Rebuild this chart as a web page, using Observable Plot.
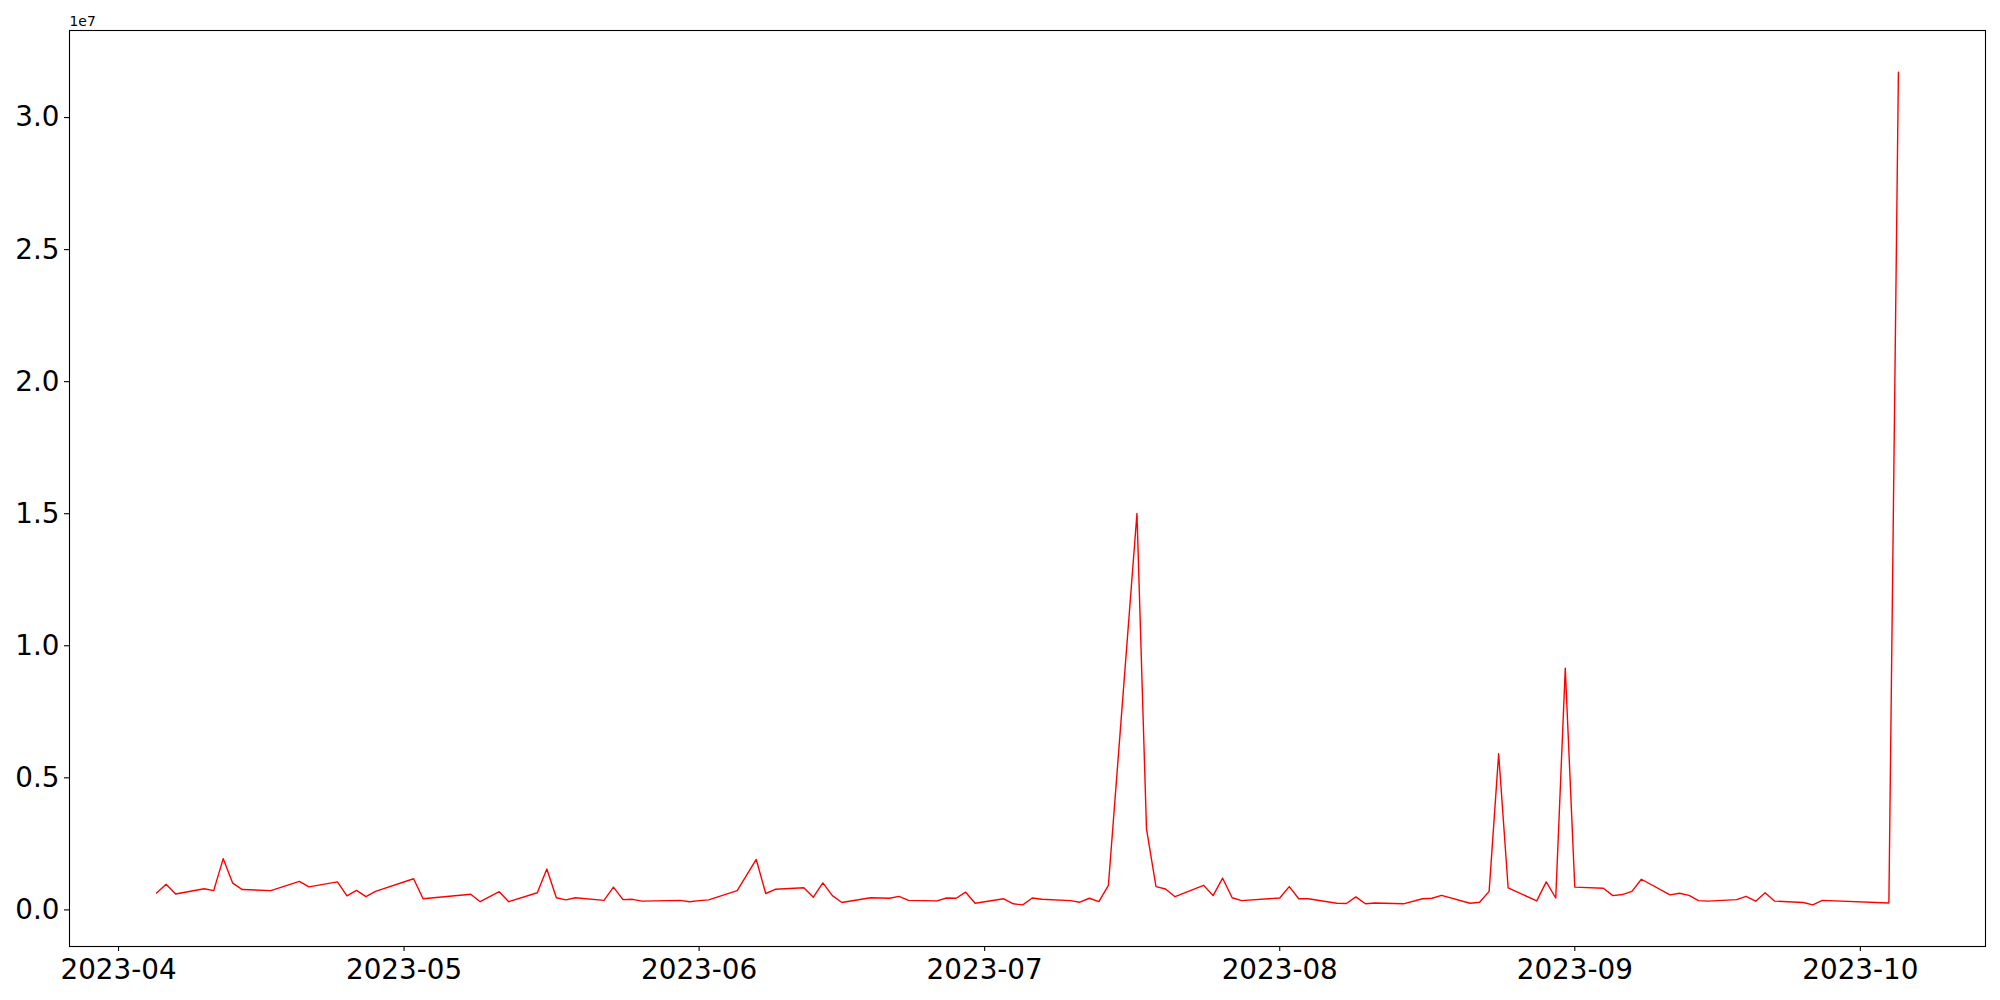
<!DOCTYPE html>
<html>
<head>
<meta charset="utf-8">
<script src="https://cdn.jsdelivr.net/npm/d3@7"></script>
<script src="https://cdn.jsdelivr.net/npm/@observablehq/plot@0.6"></script>
<style>
  html, body { margin: 0; padding: 0; background: #fff; }
  #chart svg { display: block; }
</style>
</head>
<body>
<div id="chart"></div>
<script>
// Dates (daily records) and values
const dates = [
  "2023-04-05","2023-04-06","2023-04-07","2023-04-10","2023-04-11","2023-04-12","2023-04-13","2023-04-14",
  "2023-04-17","2023-04-20","2023-04-21","2023-04-24","2023-04-25","2023-04-26","2023-04-27","2023-04-28",
  "2023-05-02","2023-05-03","2023-05-08","2023-05-09","2023-05-11","2023-05-12","2023-05-15","2023-05-16",
  "2023-05-17","2023-05-18","2023-05-19","2023-05-22","2023-05-23","2023-05-24","2023-05-25","2023-05-26",
  "2023-05-30","2023-05-31","2023-06-01","2023-06-02","2023-06-05","2023-06-07","2023-06-08","2023-06-09",
  "2023-06-12","2023-06-13","2023-06-14","2023-06-15","2023-06-16","2023-06-19","2023-06-21","2023-06-22",
  "2023-06-23","2023-06-26","2023-06-27","2023-06-28","2023-06-29","2023-06-30","2023-07-03","2023-07-04",
  "2023-07-05","2023-07-06","2023-07-07","2023-07-10","2023-07-11","2023-07-12","2023-07-13","2023-07-14",
  "2023-07-17","2023-07-18","2023-07-19","2023-07-20","2023-07-21","2023-07-24","2023-07-25","2023-07-26",
  "2023-07-27","2023-07-28","2023-08-01","2023-08-02","2023-08-03","2023-08-04","2023-08-07","2023-08-08",
  "2023-08-09","2023-08-10","2023-08-11","2023-08-14","2023-08-16","2023-08-17","2023-08-18","2023-08-21",
  "2023-08-22","2023-08-23","2023-08-24","2023-08-25","2023-08-28","2023-08-29","2023-08-30","2023-08-31",
  "2023-09-01","2023-09-04","2023-09-05","2023-09-06","2023-09-07","2023-09-08","2023-09-11","2023-09-12",
  "2023-09-13","2023-09-14","2023-09-15","2023-09-18","2023-09-19","2023-09-20","2023-09-21","2023-09-22",
  "2023-09-25","2023-09-26","2023-09-27","2023-10-04","2023-10-05"
];
const values = [
  640000, 970000, 600000, 800000, 730000, 1940000, 1010000, 770000,
  730000, 1080000, 870000, 1060000, 530000, 740000, 500000, 700000,
  1180000, 420000, 590000, 310000, 690000, 310000, 650000, 1550000,
  460000, 380000, 460000, 360000, 860000, 390000, 400000, 330000,
  360000, 310000, 350000, 380000, 730000, 1910000, 620000, 780000,
  840000, 480000, 1020000, 540000, 280000, 460000, 440000, 510000,
  360000, 340000, 450000, 440000, 670000, 250000, 420000, 230000,
  190000, 450000, 400000, 350000, 290000, 440000, 310000, 930000,
  15010000, 3070000, 880000, 790000, 500000, 930000, 540000, 1200000,
  460000, 350000, 450000, 880000, 420000, 420000, 250000, 240000,
  490000, 230000, 260000, 230000, 420000, 440000, 550000, 250000,
  290000, 700000, 5910000, 830000, 340000, 1060000, 450000, 9150000,
  860000, 820000, 540000, 580000, 700000, 1160000, 570000, 630000,
  550000, 350000, 330000, 390000, 510000, 330000, 650000, 330000,
  280000, 190000, 360000, 260000, 31720000
];
const yTicks = [0, 5e6, 1e7, 1.5e7, 2e7, 2.5e7, 3e7];
const xTickLabels = ["2023-04","2023-05","2023-06","2023-07","2023-08","2023-09","2023-10"];
const offsetLabel = ["1e7"];

const data = dates.map((d, i) => ({date: new Date(d + "T00:00:00Z"), value: values[i]}));

// matplotlib-like 5% margins
const [x0, x1] = d3.extent(data, d => d.date);
const xPad = (x1 - x0) * 0.05;
const [y0, y1] = d3.extent(data, d => d.value);
const yPad = (y1 - y0) * 0.05;
const xTicks = xTickLabels.map(s => new Date(s + "-01T00:00:00Z"));

const chart = Plot.plot({
  width: 2000,
  height: 1000,
  marginLeft: 69,
  marginRight: 15,
  marginTop: 30,
  marginBottom: 54,
  style: {fontFamily: "'DejaVu Sans', sans-serif", fontSize: "27.8px", color: "#000", background: "#fff"},
  x: {type: "utc", domain: [new Date(+x0 - xPad), new Date(+x1 + xPad)]},
  y: {domain: [y0 - yPad, y1 + yPad]},
  marks: [
    Plot.line(data, {x: "date", y: "value", stroke: "red", strokeWidth: 1.4}),
    Plot.frame({stroke: "#000", strokeWidth: 1.1}),
    Plot.axisX({ticks: xTicks, tickFormat: d3.utcFormat("%Y-%m"), tickSize: 5, tickPadding: 8, label: null, fontSize: 27.8, strokeWidth: 1.1}),
    Plot.axisY({ticks: yTicks, tickFormat: d => (d / 1e7).toFixed(1), tickSize: 5, tickPadding: 5, label: null, fontSize: 27.8, strokeWidth: 1.1}),
    Plot.text(offsetLabel, {frameAnchor: "top-left", text: d => d, textAnchor: "start", lineAnchor: "middle", dy: -9, fontSize: 13.9, fill: "#000"})
  ]
});
document.getElementById("chart").appendChild(chart);
</script>
</body>
</html>
